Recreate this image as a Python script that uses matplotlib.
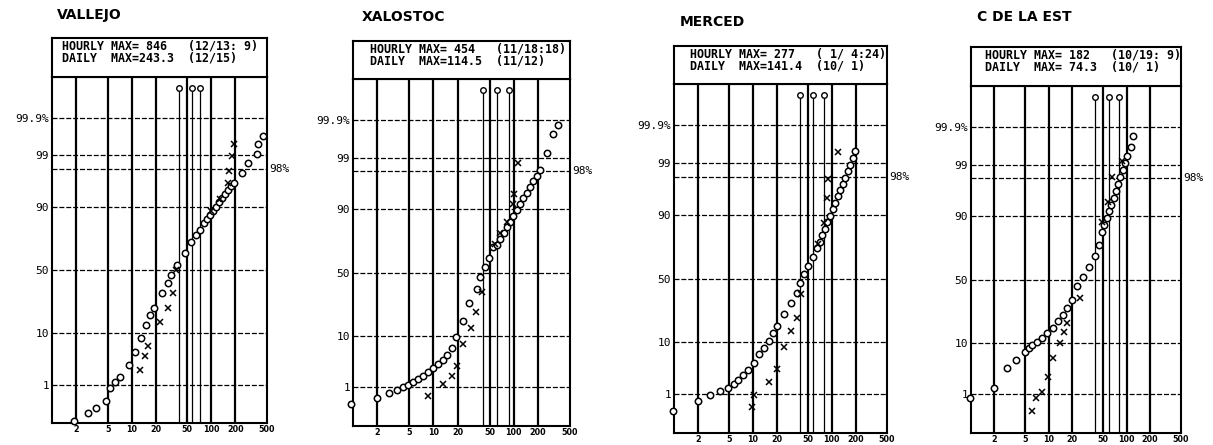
import matplotlib
matplotlib.use("Agg")
import matplotlib.pyplot as plt
from matplotlib.ticker import NullLocator
import numpy as np
from statistics import NormalDist

W, H = 1213, 445

stations = ["VALLEJO", "XALOSTOC", "MERCED", "C DE LA EST"]
hourly_text = ["HOURLY MAX= 846   (12/13: 9)",
               "HOURLY MAX= 454   (11/18:18)",
               "HOURLY MAX= 277   ( 1/ 4:24)",
               "HOURLY MAX= 182   (10/19: 9)"]
daily_text = ["DAILY  MAX=243.3  (12/15)",
              "DAILY  MAX=114.5  (11/12)",
              "DAILY  MAX=141.4  (10/ 1)",
              "DAILY  MAX= 74.3  (10/ 1)"]

x_ticks = [2, 5, 10, 20, 50, 100, 200, 500]
x_tick_labels = ["2", "5", "10", "20", "50", "100", "200", "500"]
y_ticks = [1, 10, 50, 90, 99, 99.9]
y_tick_labels = ["1", "10", "50", "90", "99", "99.9%"]
ref_level = 98

# thin lines ending in a small circle near the top
marker_lines = [[39, 58, 73], [41, 61, 87], [39, 57.5, 79], [39, 60, 79]]
marker_top = 99.989

# VALLEJO
circ_x_1 = [1.9, 2.8, 3.6, 4.7, 5.4, 6.2, 7.2, 9.3, 11.0, 13.1, 15.1, 17.0, 19.0, 23.8,
            28.3, 31.6, 37.4, 47.1, 55.8, 64, 72, 81, 88, 96, 104, 114, 124, 135, 147,
            160, 175, 190, 246, 291, 376, 390, 447]
circ_p_1 = [0.107, 0.19, 0.26, 0.40, 0.82, 1.13, 1.46, 2.74, 4.85, 8.5, 13.3, 18.1, 22.1,
            32.3, 39.7, 46, 54, 63.3, 71.6, 76.1, 79.1, 82.9, 84.8, 86.7, 88.3, 89.8, 91.5,
            92.7, 93.8, 94.7, 95.5, 96.2, 97.6, 98.5, 99.09, 99.48, 99.68]
cross_x_1 = [12.7, 14.6, 16.2, 23.0, 28.3, 33, 36, 100, 130, 160, 168, 183, 190]
cross_p_1 = [2.07, 4.1, 6.1, 14.7, 22.1, 32.3, 50, 88.5, 92.5, 96.2, 97.8, 98.98, 99.48]

# XALOSTOC
circ_x_2 = [0.95, 2.0, 2.8, 3.5, 4.2, 4.9, 5.6, 6.5, 7.4, 8.6, 9.9, 11.5, 13.2, 14.8, 17.1,
            19.2, 23.4, 27.8, 34.9, 38, 44, 49.2, 55.2, 62, 68, 75, 82, 90, 99, 109, 120,
            132, 145, 159, 175, 192, 212, 259, 307, 355]
circ_p_2 = [0.38, 0.57, 0.73, 0.86, 1.0, 1.13, 1.32, 1.54, 1.79, 2.17, 2.62, 3.14, 3.92,
            4.85, 6.4, 9.5, 16.1, 27.1, 36.7, 46, 54.8, 61.8, 69.5, 71.4, 75.3, 78.8, 82,
            84.9, 87.5, 89.7, 91.6, 93.3, 94.6, 95.8, 96.8, 97.5, 98.1, 99.22, 99.74, 99.86]
cross_x_2 = [8.6, 13.2, 17.1, 19.7, 23.4, 29.5, 34, 40, 58.5, 67, 82, 98, 100, 112]
cross_p_2 = [0.62, 1.19, 1.79, 2.87, 7.3, 13.3, 21, 34.5, 71.6, 79, 84.8, 91.8, 94.3, 98.7]

# MERCED
circ_x_3 = [0.97, 2.0, 2.9, 3.8, 4.9, 5.7, 6.4, 7.4, 8.6, 10.2, 12.1, 14.0, 15.8, 18.2,
            20.4, 25.1, 30.8, 36.6, 40, 44, 50, 58, 65.5, 70.5, 75.9, 81.7, 87.9, 94.8,
            102, 110, 118, 127, 137, 147, 158, 171, 184, 198]
circ_p_3 = [0.39, 0.69, 0.96, 1.19, 1.39, 1.74, 2.1, 2.68, 3.36, 4.4, 6.4, 8.1, 10.4, 13.6,
            16.9, 23.9, 31.2, 38.9, 46.8, 54, 60.3, 66.5, 72.9, 77, 80.8, 84.1, 87.1, 89.6,
            91.8, 93.6, 95.1, 96.2, 97.2, 97.9, 98.5, 98.9, 99.25, 99.48]
cross_x_3 = [9.6, 10.2, 15.8, 20, 25.1, 30, 36.6, 41, 67, 80, 88, 90, 120]
cross_p_3 = [0.49, 0.96, 1.9, 3.5, 8.4, 14.5, 21.5, 38, 76, 86.9, 94.8, 97.7, 99.45]

# C DE LA EST
circ_x_4 = [0.98, 2.0, 2.9, 3.8, 4.9, 5.5, 6.1, 7.1, 8.2, 9.5, 11.4, 13.2, 15.3, 17.3, 20,
            23.2, 27.7, 33, 39.5, 44.4, 48.5, 51.9, 55.4, 59.2, 63.4, 67.9, 72.5, 77.6, 83,
            88.8, 94.9, 101, 114, 121]
circ_p_4 = [0.82, 1.39, 3.7, 5.2, 7.2, 8.4, 9.3, 10.4, 11.9, 14, 16.4, 19.8, 23.9, 28.4,
            34.1, 44.4, 52.4, 60.3, 68, 76, 83, 86.4, 89.2, 91.6, 93.5, 95.1, 96.4, 97.4,
            98.1, 98.7, 99.08, 99.38, 99.63, 99.82]
cross_x_4 = [6.1, 6.9, 8.2, 9.8, 11.4, 14, 15.8, 17.3, 25.4, 48.5, 58, 65, 87.5]
cross_p_4 = [0.39, 0.82, 1.13, 2.44, 5.6, 10, 14.5, 19.2, 35.6, 87.7, 94.1, 98.1, 99.18]

circ_x = [circ_x_1, circ_x_2, circ_x_3, circ_x_4]
circ_p = [circ_p_1, circ_p_2, circ_p_3, circ_p_4]
cross_x = [cross_x_1, cross_x_2, cross_x_3, cross_x_4]
cross_p = [cross_p_1, cross_p_2, cross_p_3, cross_p_4]

# layout in pixels: left, right, plot top, plot bottom, header top
boxes = [(52, 267, 77, 423, 38),
         (353, 570, 79, 426, 41),
         (674, 887, 84, 433, 46),
         (971, 1181, 86, 433, 47)]
title_pos = [(57, 15), (362, 17), (680, 22), (977, 17)]
header_x = [62, 370, 690, 985]

_nd = NormalDist()
_inv = np.vectorize(_nd.inv_cdf, otypes=[float])
_cdf = np.vectorize(_nd.cdf, otypes=[float])


def prob_fwd(p):
    p = np.clip(np.asarray(p, dtype=float) / 100.0, 1e-12, 1 - 1e-12)
    return _inv(p)


def prob_inv(z):
    return _cdf(np.asarray(z, dtype=float)) * 100.0


mono = "DejaVu Sans Mono"
fig = plt.figure(figsize=(W / 100, H / 100), dpi=100)
fig.patch.set_facecolor("white")

for i in range(4):
    l, r, t, b, ht = boxes[i]
    ax = fig.add_axes([l / W, 1 - b / H, (r - l) / W, (b - t) / H])
    ax.set_xscale("log")
    ax.set_yscale("function", functions=(prob_fwd, prob_inv))
    ax.set_xlim(1, 500)
    ax.set_ylim(0.095, 99.9955)

    for v in x_ticks[:-1]:
        ax.axvline(v, color="black", lw=1.6, zorder=1)
    for p in y_ticks + [ref_level]:
        ax.axhline(p, color="black", lw=0.9, ls=(0, (4, 1.5)), zorder=1)
    for m in marker_lines[i]:
        ax.plot([m, m], [0.095, marker_top], color="black", lw=0.9, zorder=1)
        ax.plot(m, marker_top, "o", ms=4, mfc="white", mec="black", mew=1.0, zorder=2)

    ax.plot(circ_x[i], circ_p[i], "o", ms=4.6, mfc="white", mec="black", mew=1.1,
            ls="none", clip_on=False, zorder=3)
    ax.plot(cross_x[i], cross_p[i], "x", ms=4.5, color="black", mew=1.1,
            ls="none", clip_on=False, zorder=4)

    ax.xaxis.set_minor_locator(NullLocator())
    ax.yaxis.set_minor_locator(NullLocator())
    ax.set_xticks(x_ticks, labels=x_tick_labels, fontsize=5.8, fontweight="bold")
    ax.set_yticks(y_ticks, labels=y_tick_labels, fontsize=8, fontfamily=mono)
    ax.tick_params(axis="x", length=0, pad=1.5)
    ax.tick_params(axis="y", length=0, pad=2)
    ax.text(1.01, ref_level, "98%", transform=ax.get_yaxis_transform(),
            ha="left", va="center", fontsize=8, fontfamily=mono)
    for s in ax.spines.values():
        s.set_linewidth(1.5)

    hx = fig.add_axes([l / W, 1 - t / H, (r - l) / W, (t - ht) / H])
    hx.set_xticks([])
    hx.set_yticks([])
    for s in hx.spines.values():
        s.set_linewidth(1.5)
    hx.text((header_x[i] - l) / (r - l), 0.64, hourly_text[i] + "\n" + daily_text[i],
            transform=hx.transAxes, ha="left", va="center", fontsize=8.4,
            fontfamily=mono, fontweight="bold", linespacing=0.9)

    tx, ty = title_pos[i]
    fig.text(tx / W, 1 - ty / H, stations[i], ha="left", va="center",
             fontsize=10, fontweight="bold")

fig.savefig("out.png", dpi=100)
